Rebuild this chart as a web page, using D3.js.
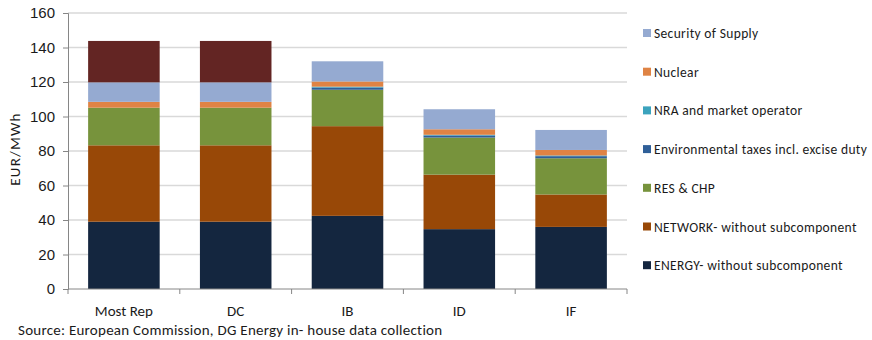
<!DOCTYPE html>
<html>
<head>
<meta charset="utf-8">
<script src="https://cdn.jsdelivr.net/npm/d3@7"></script>
<style>
    body { margin: 0; background: #fff; }
    svg { font-family: Carlito, Calibri, "Open Sans", sans-serif; }
</style>
</head>
<body>
<svg id="chart"></svg>
<script>
// chart data
const categories = ["Most Rep", "DC", "IB", "ID", "IF"];
const seriesNames = [
    "ENERGY- without subcomponent",
    "NETWORK- without subcomponent",
    "RES & CHP",
    "Environmental taxes incl. excise duty",
    "NRA and market operator",
    "Nuclear",
    "Security of Supply",
    "Other"
];
const energy = [39, 39, 42.4, 34.7, 36];
const network = [44.3, 44.3, 52, 31.6, 18.8];
const resChp = [21.8, 21.8, 21.1, 21.5, 21];
const envTaxes = [0, 0, 1.3, 1.2, 1.2];
const nraMarket = [0, 0, 0.5, 0.4, 0.4];
const nuclear = [3.4, 3.4, 3.0, 3.2, 3.2];
const securitySupply = [11.3, 11.3, 11.7, 11.6, 11.6];
const other = [24, 24, 0, 0, 0];
const yTicks = [0, 20, 40, 60, 80, 100, 120, 140, 160];
const colors = ["#14263f", "#984807", "#77933c", "#2f5f98", "#3ba3bd", "#df8344", "#95aad1", "#632523"];

const seriesValues = [energy, network, resChp, envTaxes, nraMarket, nuclear, securitySupply, other];
const rows = categories.map((c, i) => {
    const r = { cat: c };
    seriesNames.forEach((s, j) => r[s] = seriesValues[j][i]);
    return r;
});

const width = 872, height = 340;
const margin = { top: 13, right: 245, bottom: 51, left: 68 };

const svg = d3.select("#chart")
    .attr("width", width)
    .attr("height", height);

const x = d3.scaleBand()
    .domain(categories)
    .range([margin.left, width - margin.right])
    .paddingInner(0.36)
    .paddingOuter(0.18);

const y = d3.scaleLinear()
    .domain([0, 160])
    .range([height - margin.bottom, margin.top]);

// gridlines
svg.append("g")
    .selectAll("line")
    .data(yTicks.slice(1))
    .enter().append("line")
    .attr("x1", margin.left)
    .attr("x2", width - margin.right)
    .attr("y1", d => y(d))
    .attr("y2", d => y(d))
    .attr("stroke", "#d9d9d9")
    .attr("stroke-width", 1.5);

const stack = d3.stack().keys(seriesNames);
const layers = stack(rows);

svg.append("g")
    .selectAll("g")
    .data(layers)
    .enter().append("g")
    .attr("fill", (d, i) => colors[i])
    .selectAll("rect")
    .data(d => d)
    .enter().append("rect")
    .attr("x", d => x(d.data.cat))
    .attr("width", x.bandwidth())
    .attr("y", d => y(d[1]))
    .attr("height", d => Math.max(0, y(d[0]) - y(d[1])));

// y axis
const yAxis = svg.append("g")
    .attr("transform", `translate(${margin.left},0)`)
    .call(d3.axisLeft(y).tickValues(yTicks).tickSize(5).tickPadding(8));
yAxis.select(".domain").attr("stroke", "#868686");
yAxis.selectAll(".tick line").attr("stroke", "#868686");
yAxis.selectAll("text").attr("font-size", 15).attr("fill", "#1a1a1a").attr("font-family", null);

// x axis with ticks at band boundaries
const xBase = height - margin.bottom;
svg.append("line")
    .attr("x1", margin.left).attr("x2", width - margin.right)
    .attr("y1", xBase).attr("y2", xBase)
    .attr("stroke", "#868686");
const step = x.step();
const bounds = categories.map((c, i) => margin.left + i * step).concat([width - margin.right]);
svg.append("g")
    .selectAll("line")
    .data(bounds)
    .enter().append("line")
    .attr("x1", d => d).attr("x2", d => d)
    .attr("y1", xBase).attr("y2", xBase + 5)
    .attr("stroke", "#868686");

svg.append("g")
    .selectAll("text")
    .data(categories)
    .enter().append("text")
    .attr("x", d => x(d) + x.bandwidth() / 2)
    .attr("y", 316)
    .attr("text-anchor", "middle")
    .attr("font-size", 15)
    .attr("fill", "#1a1a1a")
    .text(d => d);

// y label
svg.append("text")
    .attr("transform", `translate(20,${y(80) - 2}) rotate(-90)`)
    .attr("text-anchor", "middle")
    .attr("font-size", 15)
    .attr("letter-spacing", 1.2)
    .attr("fill", "#1a1a1a")
    .text("EUR/MWh");

// source
svg.append("text")
    .attr("x", 18)
    .attr("y", 335)
    .attr("font-size", 15)
    .attr("letter-spacing", 0.25)
    .attr("fill", "#1a1a1a")
    .text("Source: European Commission, DG Energy in- house data collection");

// legend (top series is cut off in the original)
const legendItems = seriesNames.slice(0, 7).reverse();
const legendColors = colors.slice(0, 7).reverse();
const legend = svg.append("g")
    .selectAll("g")
    .data(legendItems)
    .enter().append("g")
    .attr("transform", (d, i) => `translate(643,${33 + i * 38.7})`);
legend.append("rect")
    .attr("x", 0).attr("y", -4)
    .attr("width", 8).attr("height", 8)
    .attr("fill", (d, i) => legendColors[i]);
legend.append("text")
    .attr("x", 11)
    .attr("y", 5)
    .attr("font-size", 13.5)
    .attr("letter-spacing", 0.35)
    .attr("fill", "#1a1a1a")
    .text(d => d);
</script>
</body>
</html>
